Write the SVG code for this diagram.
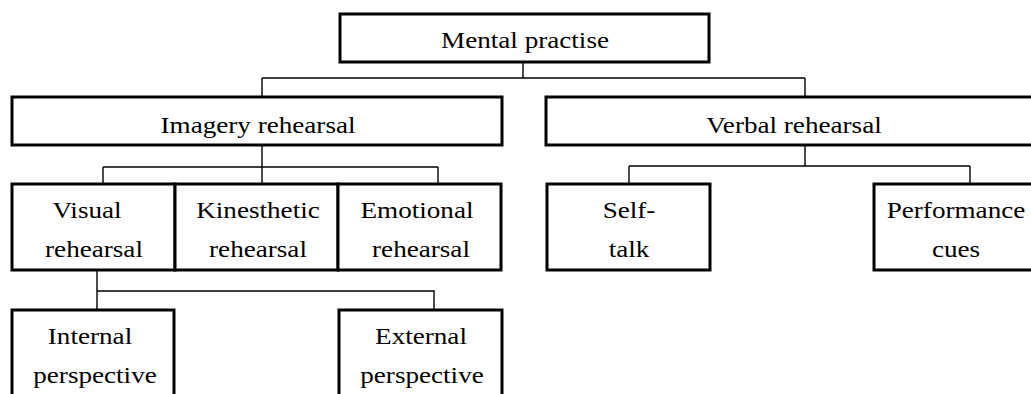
<svg xmlns="http://www.w3.org/2000/svg" width="1031" height="394" viewBox="0 0 1031 394">
<style>
.box{fill:#fff;stroke:#000;stroke-width:3}
.lbl{font-family:"Liberation Serif","Times New Roman",serif;font-size:23px;fill:#000;text-anchor:middle}
.con{fill:none;stroke:#000;stroke-width:1.4}
</style>
<rect width="1031" height="394" fill="#fff"/>
<g id="connectors">
<path class="con" d="M523,62V78M262,78H805M262,78V97M805,78V97"/>
<path class="con" d="M262,145V167M103,167H438M103,167V184M438,167V184M262,167V184"/>
<path class="con" d="M805,145V166M629,166H970M629,166V184M970,166V184"/>
<path class="con" d="M97,270V310M97,291H434V310"/>
</g>
<g id="mental">
<rect class="box" x="340" y="14" width="369" height="48"/>
<text class="lbl" transform="translate(525,48) scale(1.18,1)">Mental practise</text>
</g>
<g id="imagery">
<rect class="box" x="12" y="97" width="490" height="48"/>
<text class="lbl" transform="translate(258,133) scale(1.18,1)">Imagery rehearsal</text>
</g>
<g id="verbal">
<rect class="box" x="546" y="97" width="500" height="48"/>
<text class="lbl" transform="translate(794,133) scale(1.18,1)">Verbal rehearsal</text>
</g>
<g id="visual">
<rect class="box" x="12" y="184" width="163" height="86"/>
<text class="lbl" transform="translate(87,218) scale(1.18,1)">Visual</text>
<text class="lbl" transform="translate(94,257) scale(1.18,1)">rehearsal</text>
</g>
<g id="kinesthetic">
<rect class="box" x="175" y="184" width="163" height="86"/>
<text class="lbl" transform="translate(258,218) scale(1.18,1)">Kinesthetic</text>
<text class="lbl" transform="translate(258,257) scale(1.18,1)">rehearsal</text>
</g>
<g id="emotional">
<rect class="box" x="338" y="184" width="163" height="86"/>
<text class="lbl" transform="translate(417,218) scale(1.18,1)">Emotional</text>
<text class="lbl" transform="translate(421,257) scale(1.18,1)">rehearsal</text>
</g>
<g id="selftalk">
<rect class="box" x="547" y="184" width="163" height="86"/>
<text class="lbl" transform="translate(629,218) scale(1.18,1)">Self-</text>
<text class="lbl" transform="translate(629,257) scale(1.18,1)">talk</text>
</g>
<g id="performance">
<rect class="box" x="874" y="184" width="170" height="86"/>
<text class="lbl" transform="translate(956,218) scale(1.18,1)">Performance</text>
<text class="lbl" transform="translate(956,257) scale(1.18,1)">cues</text>
</g>
<g id="internal">
<rect class="box" x="12" y="310" width="162" height="100"/>
<text class="lbl" transform="translate(90,344) scale(1.18,1)">Internal</text>
<text class="lbl" transform="translate(95,383) scale(1.18,1)">perspective</text>
</g>
<g id="external">
<rect class="box" x="339" y="310" width="163" height="100"/>
<text class="lbl" transform="translate(421,344) scale(1.18,1)">External</text>
<text class="lbl" transform="translate(422,383) scale(1.18,1)">perspective</text>
</g>
</svg>
